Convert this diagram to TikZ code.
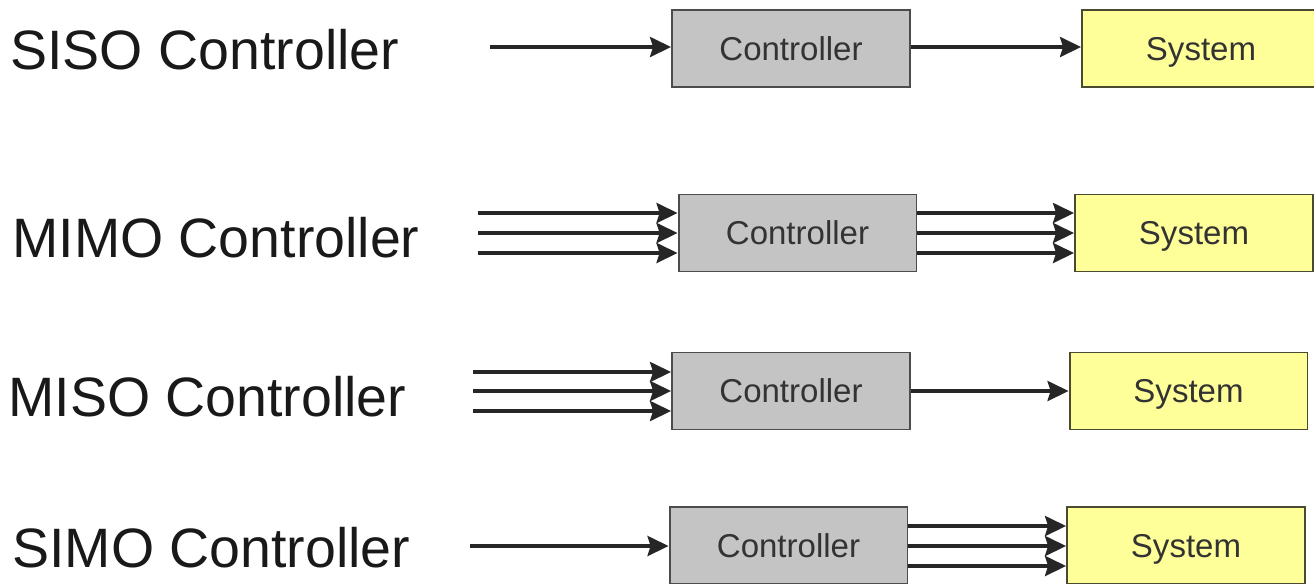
\documentclass[tikz,border=0pt]{standalone}
\usepackage{fontspec}
\setmainfont{Liberation Sans}
\usetikzlibrary{arrows.meta}

\definecolor{ctrlgray}{HTML}{C4C4C4}
\definecolor{sysyellow}{HTML}{FFFF99}
\definecolor{boxtext}{HTML}{333333}
\definecolor{sysedge}{HTML}{4A4A30}

\tikzset{
  label/.style={anchor=west, inner sep=0pt, text=black!90, font=\fontsize{31.6}{36}\selectfont},
  ctrlbox/.style={draw=black!70, line width=1.1pt, fill=ctrlgray, minimum width=4.76cm,
    minimum height=1.54cm, inner sep=0pt, text depth=0pt, text=boxtext, font=\fontsize{18.8}{22}\selectfont},
  sysbox/.style={draw=sysedge, line width=1.1pt, fill=sysyellow, minimum width=4.76cm,
    minimum height=1.54cm, inner sep=0pt, text depth=0pt, text=boxtext, font=\fontsize{18.8}{22}\selectfont},
  sig/.style={line width=2pt, black!85, -{Stealth[length=0.42cm, width=0.4cm, inset=0.06cm]}}
}

\begin{document}
\begin{tikzpicture}[x=0.02cm, y=-0.02cm]
  \useasboundingbox (0,0) rectangle (1314,583);

  % SISO
  \node[label] (labA) at (10,50) {SISO Controller};
  \node[ctrlbox] (ctrlA) at (791,48.5) {Controller};
  \node[sysbox] (sysA) at (1201,48.5) {System};
  \coordinate (inA) at (490,47);
  \draw[sig] (inA) -- (inA -| ctrlA.west);
  \draw[sig] (ctrlA.east |- inA) -- (sysA.west |- inA);

  % MIMO
  \node[label] (labB) at (12,238) {MIMO Controller};
  \node[ctrlbox] (ctrlB) at (797.5,233) {Controller};
  \node[sysbox] (sysB) at (1194,233) {System};
  \foreach \i/\y in {1/213, 2/233, 3/253} {
    \coordinate (inB\i) at (478,\y);
    \draw[sig] (inB\i) -- (inB\i -| ctrlB.west);
    \draw[sig] (ctrlB.east |- inB\i) -- (sysB.west |- inB\i);
  }

  % MISO
  \node[label] (labC) at (8,397) {MISO Controller};
  \node[ctrlbox] (ctrlC) at (791,391) {Controller};
  \node[sysbox] (sysC) at (1188.5,391) {System};
  \foreach \i/\y in {1/372, 2/391, 3/411} {
    \coordinate (inC\i) at (473,\y);
    \draw[sig] (inC\i) -- (inC\i -| ctrlC.west);
  }
  \draw[sig] (ctrlC.east |- inC2) -- (sysC.west |- inC2);

  % SIMO
  \node[label] (labD) at (12,548) {SIMO Controller};
  \node[ctrlbox] (ctrlD) at (788.5,545.5) {Controller};
  \node[sysbox] (sysD) at (1186,545.5) {System};
  \coordinate (inD) at (470,546);
  \draw[sig] (inD) -- (inD -| ctrlD.west);
  \foreach \y in {526, 546, 566} {
    \coordinate (outD) at (0,\y);
    \draw[sig] (ctrlD.east |- outD) -- (sysD.west |- outD);
  }
\end{tikzpicture}
\end{document}
